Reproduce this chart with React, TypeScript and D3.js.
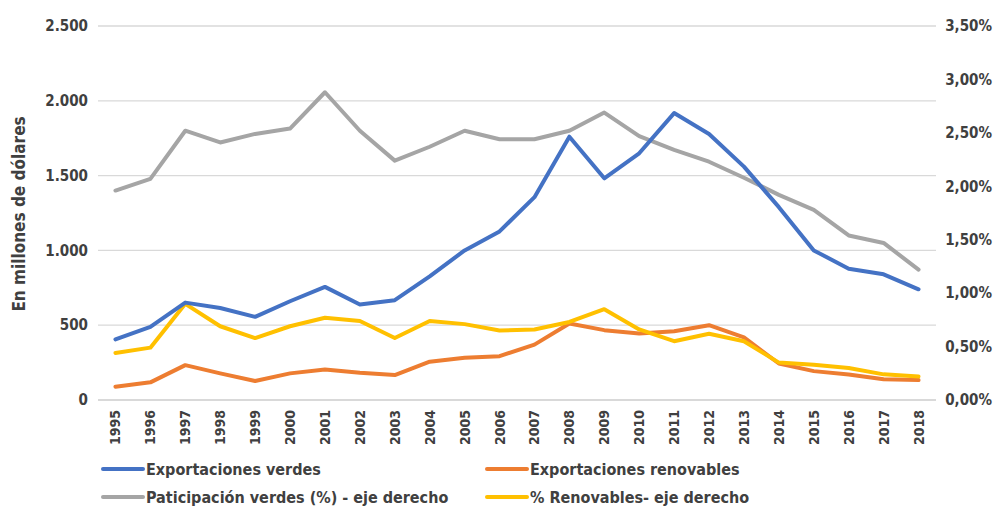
import React, { useEffect, useRef } from 'react';
import * as d3 from 'd3';

const years = [
  '1995', '1996', '1997', '1998', '1999', '2000', '2001', '2002', '2003', '2004', '2005', '2006',
  '2007', '2008', '2009', '2010', '2011', '2012', '2013', '2014', '2015', '2016', '2017', '2018',
];

// millones de dólares (eje izquierdo)
const exportVerdes = [
  405, 489, 651, 615, 556, 660, 756, 638, 667, 827, 1000, 1127,
  1356, 1760, 1482, 1649, 1918, 1778, 1560, 1289, 1000, 878, 840, 740,
];
const exportRenovables = [
  89, 118, 233, 178, 127, 178, 204, 182, 167, 256, 282, 293,
  370, 511, 467, 444, 460, 500, 418, 244, 193, 171, 138, 133,
];

// porcentaje (eje derecho)
const partVerdes = [
  1.96, 2.07, 2.52, 2.41, 2.49, 2.54, 2.88, 2.52, 2.24, 2.37, 2.52, 2.44,
  2.44, 2.52, 2.69, 2.47, 2.34, 2.23, 2.08, 1.92, 1.78, 1.54, 1.47, 1.22,
];
const pctRenovables = [
  0.44, 0.49, 0.9, 0.69, 0.58, 0.69, 0.77, 0.74, 0.58, 0.74, 0.71, 0.65,
  0.66, 0.73, 0.85, 0.66, 0.55, 0.62, 0.55, 0.35, 0.33, 0.3, 0.24, 0.22,
];

const leftTicks = [0, 500, 1000, 1500, 2000, 2500];
const rightTicks = [0, 0.5, 1, 1.5, 2, 2.5, 3, 3.5];

const legendItems = [
  { label: 'Exportaciones verdes', color: '#4472C4' },
  { label: 'Exportaciones renovables', color: '#ED7D31' },
  { label: 'Paticipación verdes (%) - eje derecho', color: '#A5A5A5' },
  { label: '% Renovables- eje derecho', color: '#FFC000' },
];

const W = 995;
const H = 506;
const FONT = '"DejaVu Sans Condensed", "Liberation Sans Narrow", "Noto Sans", sans-serif';

const App = () => {
  const ref = useRef<SVGSVGElement>(null);

  useEffect(() => {
    const svg = d3.select(ref.current);
    svg.selectAll('*').remove();

    const left = 98,
      right = 936,
      top = 26,
      bottom = 400;

    const x = d3.scalePoint<string>().domain(years).range([left, right]).padding(0.5);
    const yL = d3.scaleLinear().domain([0, 2500]).range([bottom, top]);
    const yR = d3.scaleLinear().domain([0, 3.5]).range([bottom, top]);

    // grid
    svg
      .append('g')
      .selectAll('line')
      .data(leftTicks)
      .join('line')
      .attr('x1', left)
      .attr('x2', right)
      .attr('y1', (d) => yL(d))
      .attr('y2', (d) => yL(d))
      .attr('stroke', '#d9d9d9')
      .attr('stroke-width', (d) => (d === 0 ? 2 : 1.3));

    // left axis labels
    svg
      .append('g')
      .selectAll('text')
      .data(leftTicks)
      .join('text')
      .attr('x', 88)
      .attr('y', (d) => yL(d))
      .attr('dy', '0.35em')
      .attr('text-anchor', 'end')
      .attr('font-family', FONT)
      .attr('font-size', 15)
      .attr('font-weight', 'bold')
      .attr('fill', '#404040')
      .text((d) => d3.format(',')(d).replace(/,/g, '.'));

    // right axis labels
    svg
      .append('g')
      .selectAll('text')
      .data(rightTicks)
      .join('text')
      .attr('x', 992)
      .attr('y', (d) => yR(d))
      .attr('dy', '0.35em')
      .attr('text-anchor', 'end')
      .attr('font-family', FONT)
      .attr('font-size', 15)
      .attr('font-weight', 'bold')
      .attr('fill', '#404040')
      .text((d) => d.toFixed(2).replace('.', ',') + '%');

    // year labels
    svg
      .append('g')
      .selectAll('text')
      .data(years)
      .join('text')
      .attr('transform', (d) => `translate(${(x(d) as number) + 5},410) rotate(-90)`)
      .attr('text-anchor', 'end')
      .attr('font-family', FONT)
      .attr('font-size', 14)
      .attr('font-weight', 'bold')
      .attr('fill', '#404040')
      .text((d) => d);

    // y title
    svg
      .append('text')
      .attr('transform', 'translate(25,214) rotate(-90)')
      .attr('text-anchor', 'middle')
      .attr('font-family', FONT)
      .attr('font-size', 17)
      .attr('font-weight', 'bold')
      .attr('fill', '#404040')
      .text('En millones de dólares');

    const series = [
      { values: partVerdes, scale: yR, color: '#A5A5A5' },
      { values: exportRenovables, scale: yL, color: '#ED7D31' },
      { values: pctRenovables, scale: yR, color: '#FFC000' },
      { values: exportVerdes, scale: yL, color: '#4472C4' },
    ];

    series.forEach((s) => {
      const line = d3
        .line<number>()
        .x((_, i) => x(years[i]) as number)
        .y((d) => s.scale(d));
      svg
        .append('path')
        .datum(s.values)
        .attr('fill', 'none')
        .attr('stroke', s.color)
        .attr('stroke-width', 4)
        .attr('stroke-linejoin', 'round')
        .attr('stroke-linecap', 'round')
        .attr('d', line);
    });

    // legend
    const legendPos = [
      [103, 469],
      [487, 469],
      [103, 497],
      [487, 497],
    ];
    const lg = svg
      .append('g')
      .selectAll('g')
      .data(legendItems)
      .join('g')
      .attr('transform', (_, i) => `translate(${legendPos[i][0]},${legendPos[i][1]})`);
    lg.append('line')
      .attr('x1', 0)
      .attr('x2', 40)
      .attr('stroke', (d) => d.color)
      .attr('stroke-width', 4)
      .attr('stroke-linecap', 'round');
    lg.append('text')
      .attr('x', 43)
      .attr('dy', '0.35em')
      .attr('font-family', FONT)
      .attr('font-size', 16)
      .attr('font-weight', 'bold')
      .attr('fill', '#404040')
      .text((d) => d.label);
  }, []);

  return (
    <svg
      ref={ref}
      width={W}
      height={H}
      style={{ position: 'absolute', left: 0, top: 0, background: '#fff' }}
    ></svg>
  );
};

export default App;
